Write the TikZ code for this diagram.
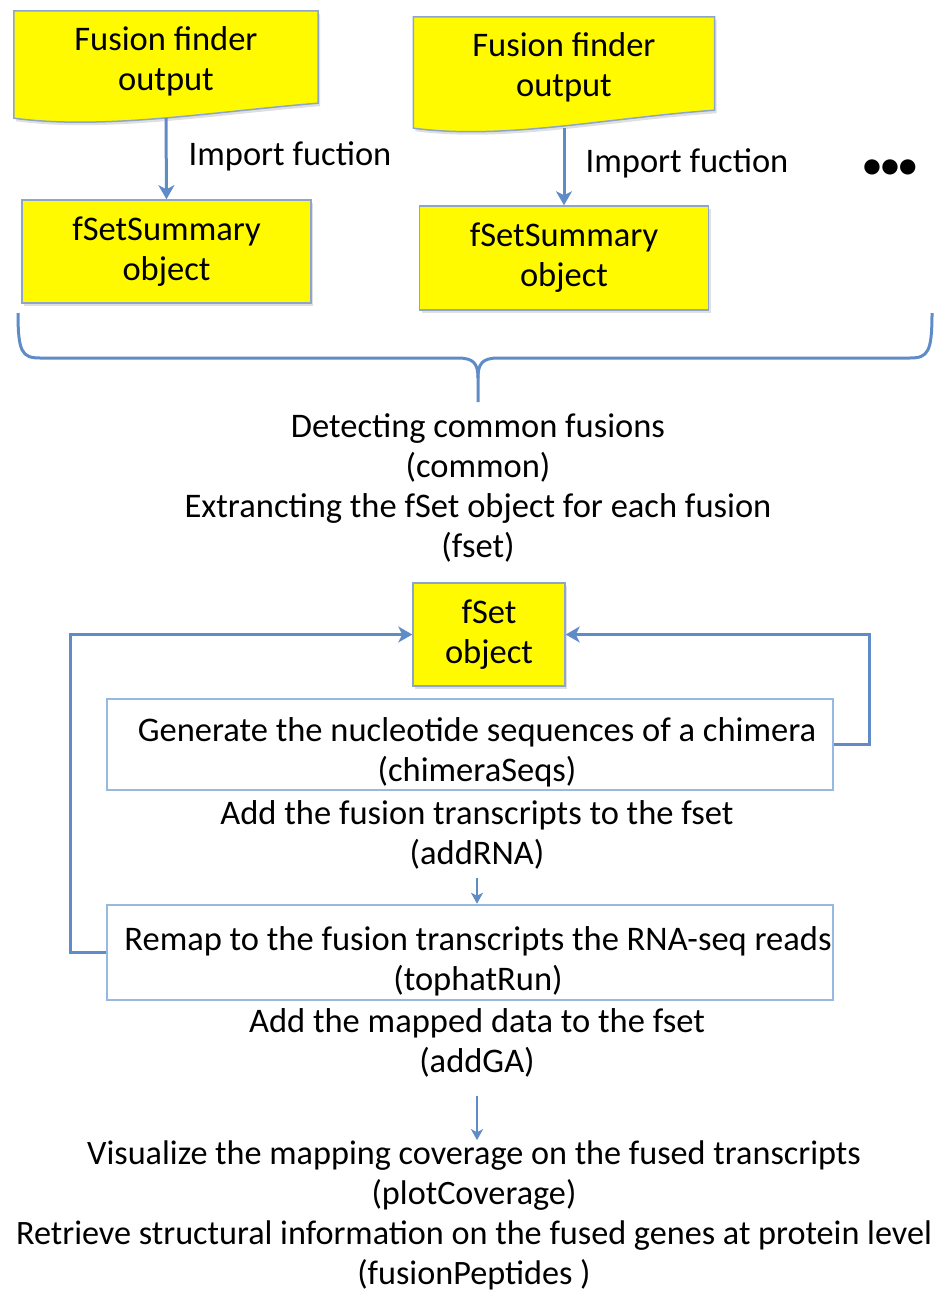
\documentclass[tikz,border=0pt]{standalone}
\usepackage{fontspec}
\setmainfont{Carlito}
\usetikzlibrary{arrows.meta,backgrounds,calc,shadows}
\definecolor{ylw}{RGB}{255,250,0}
\definecolor{bord}{RGB}{140,165,200}
\definecolor{arrc}{RGB}{95,140,198}
\definecolor{wbord}{RGB}{150,185,225}
\begin{document}
\begin{tikzpicture}[x=1pt,y=-1pt,
 txt/.style={font=\fontsize{34.5}{40}\selectfont, align=center, inner sep=0pt, text=black},
 shadowed/.style={drop shadow={opacity=0.25,shadow xshift=2pt,shadow yshift=-3pt}},
 ybox/.style={draw=bord, line width=1.5pt, fill=ylw, shadowed},
 wbox/.style={draw=wbord, line width=2.5pt, fill=white, inner sep=0pt},
 arr/.style={draw=arrc, line width=3pt, -{Stealth[length=14pt,width=16pt,inset=4pt]}},
 sarr/.style={draw=arrc, line width=2.5pt, -{Stealth[length=11pt,width=12pt,inset=3pt]}},
 brc/.style={draw=arrc, line width=3pt},
]
\useasboundingbox (0,0) rectangle (936,1292);

% document shapes (fusion finder output)
\node[txt, minimum width=304pt, minimum height=101pt] (f1) at (166,61.5) {Fusion finder\\output};
\node[txt, minimum width=301pt, minimum height=101pt] (f2) at (564,67.5) {Fusion finder\\output};
\begin{scope}[on background layer]
\path[ybox] (f1.north west) -- (f1.north east) -- ($(f1.south east)+(0,-9)$)
  .. controls ($(f1.south east)+(-110,0)$) and ($(f1.south west)+(90,18)$) .. ($(f1.south west)+(0,6)$) -- cycle;
\path[ybox] (f2.north west) -- (f2.north east) -- ($(f2.south east)+(0,-8)$)
  .. controls ($(f2.south east)+(-110,0)$) and ($(f2.south west)+(90,22)$) .. ($(f2.south west)+(0,10)$) -- cycle;
\end{scope}

% fSetSummary objects
\node[txt, ybox, minimum width=289pt, minimum height=103pt] (s1) at (166.5,251.5) {fSetSummary\\object};
\node[txt, ybox, minimum width=289pt, minimum height=104pt] (s2) at (564,258) {fSetSummary\\object};

\draw[arr] ([yshift=-6pt]f1.south) -- (s1.north);
\draw[arr] ([yshift=-10pt]f2.south) -- (s2.north);
\node[txt] (lab1) at (290,156) {Import fuction};
\node[txt] (lab2) at (687,163) {Import fuction};
\node[txt, font=\fontsize{36}{40}\selectfont\bfseries] (dots) at (890,169) {•••};

% brace
\draw[brc] (18,313) .. controls (18,352) and (22,358) .. (40,358) -- (458,358)
  .. controls (474,358) and (478,364) .. (478,378) -- (478,402);
\draw[brc] (932,313) .. controls (932,352) and (928,358) .. (910,358) -- (498,358)
  .. controls (482,358) and (478,364) .. (478,378);

\node[txt] (det) at (478,488) {Detecting common fusions\\(common)\\Extrancting the fSet object for each fusion\\(fset)};

% fSet object loop
\node[txt, ybox, minimum width=152pt, minimum height=103pt] (fset) at (489,634.5) {fSet\\object};
\node[wbox, minimum width=726pt, minimum height=91pt] (gen) at (470,744.5) {};
\node[txt] (gent) at (477,752) {Generate the nucleotide sequences of a chimera\\(chimeraSeqs)};
\node[txt] (addrna) at (477,835) {Add the fusion transcripts to the fset\\(addRNA)};
\node[wbox, minimum width=726pt, minimum height=95pt] (remap) at (470,952.5) {};
\node[txt] (remapt) at (478,961) {Remap to the fusion transcripts the RNA-seq reads\\(tophatRun)};

\draw[sarr] ([yshift=-8pt]addrna.south) -- (addrna.south |- remap.north);
\draw[arr] (gen.east) -- ++(35,0) |- (fset.east);
\draw[arr] (remap.west) -- ++(-35,0) |- (fset.west);

\node[txt] (addga) at (477,1043) {Add the mapped data to the fset\\(addGA)};
\node[txt, font=\fontsize{34.2}{40}\selectfont] (vis) at (474,1215) {Visualize the mapping coverage on the fused transcripts\\(plotCoverage)\\Retrieve structural information on the fused genes at protein level\\(fusionPeptides )};
\draw[sarr] ([yshift=-18pt]addga.south) -- (addga.south |- vis.north);
\end{tikzpicture}
\end{document}
